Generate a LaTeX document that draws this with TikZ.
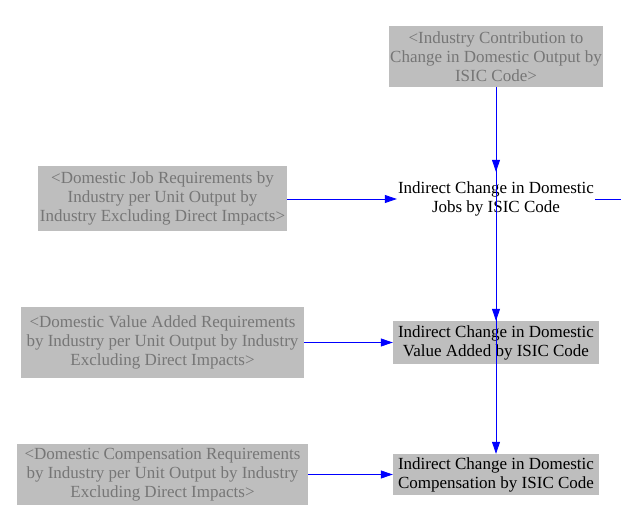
\documentclass[tikz,border=0pt]{standalone}
\usepackage{fontspec}
\setmainfont{Liberation Serif}
\usetikzlibrary{arrows.meta}
\definecolor{boxgray}{RGB}{190,190,190}
\definecolor{txtgray}{RGB}{118,118,118}
\definecolor{arrblue}{RGB}{0,0,255}
\tikzset{
  ghost/.style={fill=boxgray, text=txtgray, align=center, inner sep=0pt, font=\fontsize{17}{19}\selectfont},
  varbox/.style={fill=boxgray, text=black, align=center, inner sep=0pt, font=\fontsize{17}{19}\selectfont},
  plainvar/.style={text=black, align=center, inner sep=0pt, font=\fontsize{17}{19}\selectfont},
  link/.style={draw=arrblue, line width=0.8pt, -{Triangle[length=12pt,width=8pt]}},
}
\begin{document}
\begin{tikzpicture}[x=1pt,y=-1pt]
\useasboundingbox (0,0) rectangle (621,526);
\node[ghost, minimum width=214, minimum height=61] (top) at (496,56.5) {<Industry Contribution to\\Change in Domestic Output by\\ISIC Code>};
\node[plainvar, minimum width=198, minimum height=54] (jobs) at (496,199) {Indirect Change in Domestic\\Jobs by ISIC Code};
\node[varbox, minimum width=206, minimum height=43] (va) at (496,342.5) {Indirect Change in Domestic\\Value Added by ISIC Code};
\node[varbox, minimum width=206, minimum height=41] (comp) at (496,474.5) {Indirect Change in Domestic\\Compensation by ISIC Code};
\node[ghost, minimum width=249, minimum height=65] (l1) at (162.5,198.5) {<Domestic Job Requirements by\\Industry per Unit Output by\\Industry Excluding Direct Impacts>};
\node[ghost, minimum width=283, minimum height=71] (l2) at (162.5,342.5) {<Domestic Value Added Requirements\\by Industry per Unit Output by Industry\\Excluding Direct Impacts>};
\node[ghost, minimum width=291, minimum height=61] (l3) at (162.5,474.5) {<Domestic Compensation Requirements\\by Industry per Unit Output by Industry\\Excluding Direct Impacts>};
\coordinate (out) at (621,199);
\draw[link] (top.south) -- (jobs.north);
\draw[link] (top.south) -- (va.north);
\draw[link] (top.south) -- (comp.north);
\draw[link] (l1.east |- jobs.west) -- (jobs.west);
\draw[link] (l2.east) -- (va.west);
\draw[link] (l3.east) -- (comp.west);
\draw[draw=arrblue, line width=0.8pt] (jobs.east) -- (out);
\end{tikzpicture}
\end{document}
